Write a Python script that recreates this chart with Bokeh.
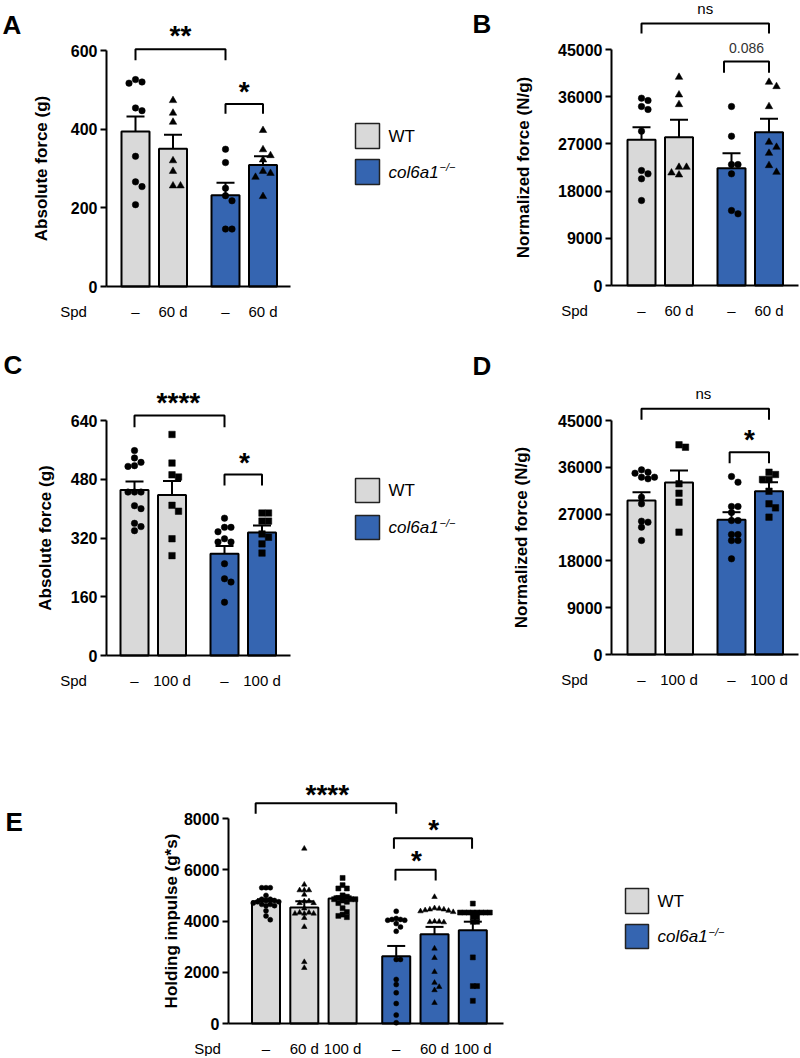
import numpy as np
from bokeh.plotting import figure
from bokeh.layouts import row, column
from bokeh.models import Range1d, FixedTicker, Label
from bokeh.embed import file_html
from bokeh.resources import INLINE

FONT = "Liberation Sans"
GRAY = "#d9d9d9"
BLUE = "#3565b1"

# ------------------------------------------------------------------ data
GENOTYPES = ["WT", "col6a1"]

A_ticklabels = ["–", "60 d", "–", "60 d"]
A_geno = ["WT", "WT", "col6a1", "col6a1"]
A_mean = [394, 350, 232, 309]
A_sem = [38, 36, 32, 22]
A_yticks = [0, 200, 400, 600]
A_points = [
    [526, 520, 517, 454, 447, 331, 266, 254, 208],
    [473, 441, 418, 320, 293, 256, 256],
    [349, 315, 250, 231, 218, 146, 146],
    [397, 348, 333, 322, 293, 288, 278, 229],
]

B_ticklabels = ["–", "60 d", "–", "60 d"]
B_geno = ["WT", "WT", "col6a1", "col6a1"]
B_mean = [27776, 28285, 22370, 29240]
B_sem = [2414, 3305, 2860, 2540]
B_yticks = [0, 9000, 18000, 27000, 36000, 45000]
B_points = [
    [35720, 35275, 34130, 33560, 29430, 21930, 21290, 20340, 16210],
    [39725, 36360, 34510, 22565, 22565, 21480, 21100],
    [34130, 28475, 23070, 23070, 21290, 13665, 14300],
    [38770, 37945, 34130, 27330, 26380, 25230, 22880, 21610],
]

C_ticklabels = ["–", "100 d", "–", "100 d"]
C_geno = ["WT", "WT", "col6a1", "col6a1"]
C_mean = [451, 437, 277, 335]
C_sem = [23, 38, 21, 19]
C_yticks = [0, 160, 320, 480, 640]
C_points = [
    [558, 538, 526, 517, 515, 445, 445, 445, 408, 400, 360, 351, 340],
    [602, 524, 492, 486, 409, 393, 318, 272],
    [374, 349, 349, 337, 318, 309, 309, 250, 209, 200, 145],
    [388, 388, 366, 366, 331, 322, 304, 279],
]

D_ticklabels = ["–", "100 d", "–", "100 d"]
D_geno = ["WT", "WT", "col6a1", "col6a1"]
D_mean = [29614, 33075, 25896, 31410]
D_sem = [1600, 2300, 1470, 1730]
D_yticks = [0, 9000, 18000, 27000, 36000, 45000]
D_points = [
    [35510, 35060, 34870, 34100, 34100, 33780, 30255, 28975, 25640, 25450, 24490, 21920],
    [40320, 39870, 32820, 31025, 29295, 23525],
    [34230, 33140, 28460, 28460, 27300, 25770, 25770, 23075, 23075, 21920, 21920, 18400],
    [35060, 34615, 33650, 33650, 31400, 28970, 28200, 26410],
]

E_ticklabels = ["–", "60 d", "100 d", "–", "60 d", "100 d"]
E_geno = ["WT", "WT", "WT", "col6a1", "col6a1", "col6a1"]
E_mean = [4771, 4524, 4880, 2626, 3484, 3643]
E_sem = [80, 247, 80, 400, 286, 330]
E_yticks = [0, 2000, 4000, 6000, 8000]
E_points = [
    [5300, 5300, 5300, 5000, 4800, 4850, 4850, 4800, 4750, 4750, 4700, 4650, 4650, 4600, 4600, 4400, 4200, 4050],
    [6825, 5420, 5200, 5200, 5200, 5030, 4770, 4770, 4700, 4700, 4490, 4330, 4330, 4290, 4290, 4290, 4120, 3770, 2400, 2170],
    [5680, 5400, 5270, 5270, 5000, 4950, 4900, 4850, 4850, 4850, 4800, 4750, 4700, 4500, 4350, 4250, 4200, 4150],
    [4380, 4100, 4030, 4060, 4030, 4060, 3900, 3770, 3600, 2500, 2500, 1720, 1520, 1200, 780, 330, 30],
    [4940, 4500, 4480, 4450, 4450, 4420, 4400, 4380, 4350, 3980, 3970, 3960, 3950, 2925, 2560, 2015, 1590, 1430, 1300, 806],
    [4680, 4330, 4330, 4330, 4330, 4330, 4330, 4330, 4330, 4160, 4160, 3970, 3970, 2580, 1460, 1460, 885],
]

COLORS = {"WT": GRAY, "col6a1": BLUE}


def positions(geno):
    """bar positions: unit step inside a genotype group, wider gap between groups"""
    out, g, k, prev = [], -1, 0, None
    n_per = geno.count(geno[0])
    for gname in geno:
        if gname != prev:
            g += 1
            k = 0
            prev = gname
        out.append(k + g * (n_per - 1 + 1.4))
        k += 1
    return out


def swarm(vals, sy, d):
    vals = np.asarray(vals, dtype=float)
    order = np.argsort(-vals, kind="stable")
    placed = []
    out = np.zeros(len(vals))
    cands = [0.0]
    for j in range(1, 12):
        cands += [j * d, -j * d]
    for idx in order:
        ypx = vals[idx] * sy
        chosen = cands[-1]
        for c in cands:
            if all((c - px) ** 2 + (ypx - py) ** 2 >= (0.92 * d) ** 2 for px, py in placed):
                chosen = c
                break
        placed.append((chosen, ypx))
        out[idx] = chosen
    return out


def make_panel(cfg, means, sems, pts, geno, ticklabels, yticks, markers):
    fx, fy, W, H = cfg["fig"]
    axx, ay = cfg["axis_x"], cfg["axis_y"]
    cx0, sx, sy = cfg["cx0"], cfg["sx"], cfg["sy"]

    def X(px):
        return (px - cx0) / sx

    def Y(py):
        return (ay - py) / sy

    p = figure(width=W, height=H,
               x_range=Range1d(X(fx), X(fx + W)), y_range=Range1d(Y(fy + H), Y(fy)),
               min_border=0, min_border_left=0, min_border_right=0,
               min_border_top=0, min_border_bottom=0,
               output_backend="svg", toolbar_location=None, title=None)
    p.xgrid.visible = False
    p.ygrid.visible = False
    p.outline_line_color = None
    p.background_fill_color = "white"
    p.border_fill_color = "white"

    pos = positions(geno)
    colors = [COLORS[g] for g in geno]
    bw = 28.0 / sx
    cw = 9.0 / sx
    tops = [m + s for m, s in zip(means, sems)]

    p.vbar(x=pos, top=means, width=bw, bottom=0, fill_color=colors,
           line_color="black", line_width=2)
    p.segment(x0=pos, y0=means, x1=pos, y1=tops, line_color="black", line_width=2)
    p.segment(x0=[x - cw for x in pos], y0=tops, x1=[x + cw for x in pos], y1=tops,
              line_color="black", line_width=2)

    ms = cfg["msize"]
    for i, vals in enumerate(pts):
        mk = markers[i]
        size = ms[mk]
        off = swarm(vals, sy, size * cfg["swarm"])
        xs = [pos[i] + o / sx for o in off]
        p.scatter(x=xs, y=vals, marker=mk, size=size, fill_color="black",
                  line_color="black", line_width=0.5)

    # significance brackets (data units)
    bx, by = [], []
    for (x0, x1, yt, yb) in cfg["brackets"]:
        bx.append([x0, x0, x1, x1])
        by.append([yb, yt, yt, yb])
    p.multi_line(xs=bx, ys=by, line_color="black", line_width=2)

    def txt(x, py, text, size, style="normal", color="black", align="center"):
        p.add_layout(Label(x=x, y=Y(py), text=text, text_font=FONT,
                           text_font_size=f"{size}px", text_font_style=style,
                           text_color=color, text_align=align,
                           text_baseline="alphabetic"))

    for (x, py, text, size, style, color) in cfg["texts"]:
        txt(x, py, text, size, style, color)

    lx, ly = cfg["letter_pos"]
    txt(X(lx), ly, cfg["letter"], 26, "bold", align="left")
    sxp, syp = cfg["spd_pos"]
    txt(X(sxp), syp, "Spd", 15)

    # axes drawn at fixed locations inside the full-size frame
    yax = p.yaxis[0]
    yax.fixed_location = X(axx)
    yax.ticker = FixedTicker(ticks=yticks)
    yax.bounds = (0, yticks[-1])
    yax.axis_line_width = 2
    yax.axis_line_color = "black"
    yax.major_tick_line_width = 2
    yax.major_tick_line_color = "black"
    yax.major_tick_out = 6
    yax.major_tick_in = 0
    yax.minor_tick_line_color = None
    yax.major_label_text_font = FONT
    yax.major_label_text_font_size = "16px"
    yax.major_label_text_font_style = "bold"
    yax.major_label_text_color = "black"
    yax.major_label_standoff = 3
    yax.axis_label = cfg["ylabel"]
    yax.axis_label_text_font = FONT
    yax.axis_label_text_font_size = "17px"
    yax.axis_label_text_font_style = "bold"
    yax.axis_label_text_color = "black"
    yax.axis_label_standoff = cfg["ylab_standoff"]

    xax = p.xaxis[0]
    xax.fixed_location = 0
    xax.ticker = FixedTicker(ticks=pos)
    xax.major_label_overrides = {float(x): lab for x, lab in zip(pos, ticklabels)}
    xax.bounds = (X(axx), X(cfg["axis_end"]))
    xax.axis_line_width = 2
    xax.axis_line_color = "black"
    xax.major_tick_line_color = None
    xax.major_tick_out = 0
    xax.major_tick_in = 0
    xax.minor_tick_line_color = None
    xax.major_label_text_font = FONT
    xax.major_label_text_font_size = "15px"
    xax.major_label_text_color = "black"
    xax.major_label_standoff = 16
    return p


def make_legend(cfg):
    fx, fy, W, H = cfg["fig"]
    p = figure(width=W, height=H, x_range=Range1d(0, W), y_range=Range1d(H, 0),
               x_axis_type=None, y_axis_type=None, min_border=0,
               min_border_left=0, min_border_right=0, min_border_top=0, min_border_bottom=0,
               output_backend="svg", toolbar_location=None, title=None)
    p.outline_line_color = None
    p.xgrid.visible = False
    p.ygrid.visible = False
    bx0, bx1 = cfg["box_x"]
    boxes = cfg["boxes"]
    p.quad(left=[bx0 - fx] * 2, right=[bx1 - fx] * 2,
           top=[b[0] - fy for b in boxes], bottom=[b[1] - fy for b in boxes],
           fill_color=[COLORS[g] for g in GENOTYPES], line_color="#222222", line_width=1.5)
    tx = cfg["text_x"] - fx
    wt_c = (boxes[0][0] + boxes[0][1]) / 2 - fy
    ko_c = (boxes[1][0] + boxes[1][1]) / 2 - fy

    def lab(x, y, text, size, style="normal"):
        p.add_layout(Label(x=x, y=y, text=text, text_font=FONT, text_font_size=f"{size}px",
                           text_font_style=style, text_baseline="alphabetic",
                           text_color="black"))

    lab(tx, wt_c, "WT", 17)
    lab(tx, ko_c, "col6a1", 17, "italic")
    lab(tx + 51, ko_c - 5, "−/−", 11, "italic")
    return p


MS_AB = {"circle": 6.5, "triangle": 7.5, "square": 6.5}
MS_E = {"circle": 5.0, "triangle": 5.5, "square": 5.0}

cfgA = dict(fig=(0, 0, 300, 325), axis_x=106, axis_y=286, cx0=135, sx=37.5,
            sy=236 / 600, axis_end=290, letter="A", letter_pos=(2, 24), spd_pos=(73, 311),
            ylabel="Absolute force (g)", ylab_standoff=17, msize=MS_AB, swarm=1.0,
            brackets=[(0, 2.4, 603, 575), (2.4, 3.4, 464, 439)],
            texts=[(1.2, 35, "**", 28, "bold", "black"),
                   (2.9, 91, "*", 28, "bold", "black")])
cfgB = dict(fig=(465, 0, 335, 325), axis_x=611, axis_y=285, cx0=641, sx=37.5,
            sy=236 / 45000, axis_end=798, letter="B", letter_pos=(472, 23), spd_pos=(574, 310),
            ylabel="Normalized force (N/g)", ylab_standoff=22, msize=MS_AB, swarm=1.0,
            brackets=[(0, 3.4, 49962, 48055), (2.2, 3.4, 42715, 40560)],
            texts=[(1.7, 8, "ns", 15, "normal", "black"),
                   (2.8, 47, "0.086", 14, "normal", "#333333")])
cfgC = dict(fig=(0, 325, 300, 370), axis_x=106, axis_y=655, cx0=134, sx=37.5,
            sy=235 / 640, axis_end=290, letter="C", letter_pos=(3, 364), spd_pos=(73, 680),
            ylabel="Absolute force (g)", ylab_standoff=13, msize=MS_AB, swarm=1.0,
            brackets=[(0, 2.4, 653.6, 621.7), (2.4, 3.4, 492.9, 463)],
            texts=[(1.17, 402, "****", 28, "bold", "black"),
                   (2.93, 462, "*", 28, "bold", "black")])
cfgD = dict(fig=(465, 325, 335, 370), axis_x=611, axis_y=654, cx0=641, sx=37.5,
            sy=234 / 45000, axis_end=798, letter="D", letter_pos=(472, 365), spd_pos=(574, 679),
            ylabel="Normalized force (N/g)", ylab_standoff=24, msize=MS_AB, swarm=1.0,
            brackets=[(0, 3.4, 47250, 45135), (2.35, 3.4, 38900, 36790)],
            texts=[(1.65, 393, "ns", 15, "normal", "black"),
                   (2.88, 439, "*", 28, "bold", "black")])
cfgE = dict(fig=(0, 695, 560, 361), axis_x=228, axis_y=1023, cx0=265.5, sx=38.3,
            sy=205 / 8000, axis_end=503, letter="E", letter_pos=(5, 821), spd_pos=(207, 1048),
            ylabel="Holding impulse (g*s)", ylab_standoff=0, msize=MS_E, swarm=0.85,
            brackets=[(-0.27, 3.4, 8598, 8183), (3.34, 5.38, 7233, 6818),
                      (3.38, 4.43, 5997, 5580)],
            texts=[(1.6, 794, "****", 28, "bold", "black"),
                   (4.38, 829, "*", 28, "bold", "black"),
                   (3.93, 860, "*", 28, "bold", "black")])

mk4a = ["circle", "triangle", "circle", "triangle"]
mk4c = ["circle", "square", "circle", "square"]
mk6 = ["circle", "triangle", "square", "circle", "triangle", "square"]

pA = make_panel(cfgA, A_mean, A_sem, A_points, A_geno, A_ticklabels, A_yticks, mk4a)
pB = make_panel(cfgB, B_mean, B_sem, B_points, B_geno, B_ticklabels, B_yticks, mk4a)
pC = make_panel(cfgC, C_mean, C_sem, C_points, C_geno, C_ticklabels, C_yticks, mk4c)
pD = make_panel(cfgD, D_mean, D_sem, D_points, D_geno, D_ticklabels, D_yticks, mk4c)
pE = make_panel(cfgE, E_mean, E_sem, E_points, E_geno, E_ticklabels, E_yticks, mk6)

leg1 = make_legend(dict(fig=(300, 0, 165, 325), box_x=(355, 379),
                        boxes=[(123, 148), (159, 184)], text_x=388))
leg2 = make_legend(dict(fig=(300, 325, 165, 370), box_x=(355, 379),
                        boxes=[(478, 502), (515, 539)], text_x=388))
leg3 = make_legend(dict(fig=(560, 695, 240, 361), box_x=(625, 648),
                        boxes=[(888, 913), (924, 948)], text_x=657))

layout = column(row(pA, leg1, pB), row(pC, leg2, pD), row(pE, leg3))

open("out.html", "w").write(file_html(layout, INLINE))
